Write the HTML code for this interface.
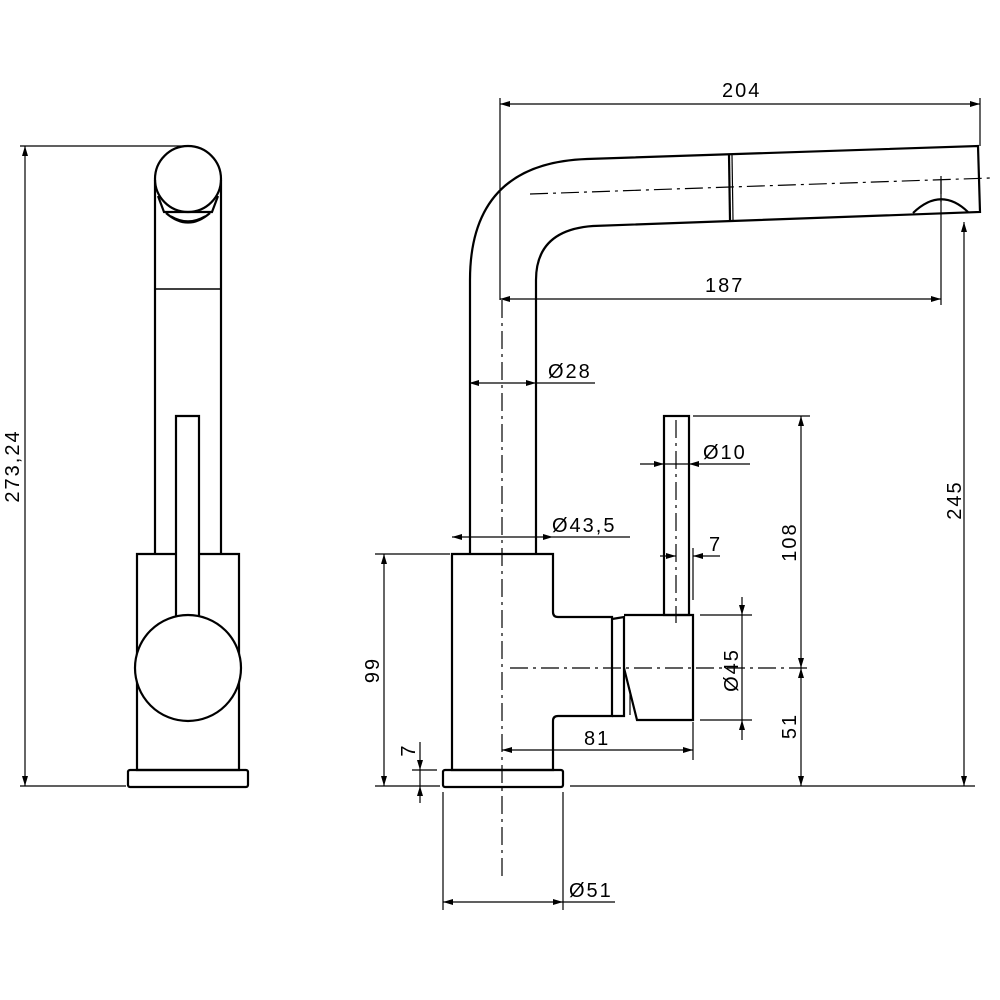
<!DOCTYPE html>
<html><head><meta charset="utf-8"><style>
html,body{margin:0;padding:0;background:#fff}
svg{display:block}
text{font-family:"Liberation Sans",sans-serif;font-size:20px;fill:#000;letter-spacing:2px}
</style></head><body>
<svg width="1000" height="1000" viewBox="0 0 1000 1000" xmlns="http://www.w3.org/2000/svg">
<defs>
<marker id="a" viewBox="0 0 10 6" refX="10" refY="3" markerWidth="18" markerHeight="6" markerUnits="userSpaceOnUse" orient="auto-start-reverse"><path d="M0,0 L10,3 L0,6 z" fill="#000"/></marker>
</defs>
<g fill="none" stroke="#000">
<!-- LEFT VIEW -->
<g stroke-width="1.2">
<line x1="20" y1="146" x2="190" y2="146"/>
<line x1="20" y1="786" x2="126" y2="786"/>
<line x1="25" y1="146" x2="25" y2="786" marker-start="url(#a)" marker-end="url(#a)"/>
</g>
<g stroke-width="2.2">
<circle cx="188" cy="179" r="33"/>
<line x1="155" y1="180" x2="155" y2="554"/>
<line x1="221" y1="180" x2="221" y2="554"/>
<line x1="155" y1="289" x2="221" y2="289" stroke-width="1.5"/>
<path d="M158,196 L164,212 L212,212 L218,196"/>
<path d="M166,213 Q188,232 210,213"/>
<path d="M171,216 Q188,226 205,216" stroke-width="1.4"/>
<path d="M176,616 L176,416 L199,416 L199,616"/>
<path d="M176,554 L137,554 L137,770 L239,770 L239,554 L199,554"/>
<circle cx="188" cy="668" r="53" fill="#fff"/>
<rect x="128" y="770" width="120" height="17" rx="2"/>
</g>
<!-- RIGHT VIEW dims -->
<g stroke-width="1.2">
<line x1="500" y1="98" x2="500" y2="300"/>
<line x1="980" y1="98" x2="980" y2="146"/>
<line x1="500" y1="104" x2="980" y2="104" marker-start="url(#a)" marker-end="url(#a)"/>
<line x1="941" y1="180" x2="941" y2="305"/>
<line x1="500" y1="299" x2="941" y2="299" marker-start="url(#a)" marker-end="url(#a)"/>
<line x1="964" y1="222" x2="964" y2="786" marker-start="url(#a)" marker-end="url(#a)"/>
<line x1="469" y1="383" x2="536" y2="383" marker-start="url(#a)" marker-end="url(#a)"/>
<line x1="536" y1="383" x2="595" y2="383"/>
<line x1="452" y1="537" x2="553" y2="537" marker-start="url(#a)" marker-end="url(#a)"/>
<line x1="553" y1="537" x2="630" y2="537"/>
<line x1="640" y1="464" x2="664" y2="464" marker-end="url(#a)"/>
<line x1="664" y1="464" x2="689" y2="464"/>
<line x1="750" y1="464" x2="689" y2="464" marker-end="url(#a)"/>
<line x1="660" y1="556" x2="676" y2="556" marker-end="url(#a)"/>
<line x1="720" y1="556" x2="693" y2="556" marker-end="url(#a)"/>
<line x1="693" y1="548" x2="693" y2="600"/>
<line x1="693" y1="416" x2="810" y2="416"/>
<line x1="801" y1="416" x2="801" y2="668" marker-start="url(#a)" marker-end="url(#a)"/>
<line x1="801" y1="668" x2="801" y2="786" marker-start="url(#a)" marker-end="url(#a)"/>
<line x1="700" y1="615" x2="752" y2="615"/>
<line x1="700" y1="720" x2="752" y2="720"/>
<line x1="742" y1="597" x2="742" y2="615" marker-end="url(#a)"/>
<line x1="742" y1="615" x2="742" y2="720"/>
<line x1="742" y1="740" x2="742" y2="720" marker-end="url(#a)"/>
<line x1="502" y1="750" x2="693" y2="750" marker-start="url(#a)" marker-end="url(#a)"/>
<line x1="693" y1="722" x2="693" y2="760"/>
<line x1="570" y1="786" x2="975" y2="786"/>
<line x1="375" y1="554" x2="450" y2="554"/>
<line x1="375" y1="786" x2="440" y2="786"/>
<line x1="384" y1="554" x2="384" y2="786" marker-start="url(#a)" marker-end="url(#a)"/>
<line x1="412" y1="770" x2="437" y2="770"/>
<line x1="420" y1="742" x2="420" y2="770" marker-end="url(#a)"/>
<line x1="420" y1="770" x2="420" y2="786"/>
<line x1="420" y1="803" x2="420" y2="786" marker-end="url(#a)"/>
<line x1="443" y1="792" x2="443" y2="910"/>
<line x1="563" y1="792" x2="563" y2="910"/>
<line x1="443" y1="902" x2="563" y2="902" marker-start="url(#a)" marker-end="url(#a)"/>
<line x1="563" y1="902" x2="615" y2="902"/>
</g>
<!-- centerlines -->
<g stroke-width="1.2" stroke-dasharray="18,5,3,5">
<line x1="502" y1="300" x2="502" y2="880"/>
<line x1="530" y1="194" x2="990" y2="178"/>
<line x1="510" y1="668" x2="810" y2="668"/>
<line x1="676" y1="420" x2="676" y2="623"/>
<line x1="941" y1="176" x2="941" y2="205"/>
</g>
<!-- right view body -->
<g stroke-width="2.2">
<path d="M470,554 L470,280 Q470,163 587,159 L978,146 L980,212 L593,226 Q536,230 536,280 L536,554"/>
<line x1="729" y1="155" x2="730" y2="220"/>
<line x1="732" y1="155" x2="733" y2="220" stroke-width="1.2"/>
<path d="M913,213 Q941,186 968,212"/>
<path d="M452,554 L553,554 L553,612 Q553,617 558,617 L612,617 L612,716 L558,716 Q553,716 553,721 L553,770 L452,770 Z"/>
<path d="M612,619 L624,617 L624,716 L612,716"/>
<path d="M624,668 L637,720 L693,720 L693,615 L624,615"/>
<line x1="630" y1="690" x2="630" y2="715" stroke-width="1.2"/>
<rect x="664" y="416" width="25" height="199"/>
<rect x="443" y="770" width="120" height="17" rx="2"/>
</g>
</g>
<!-- labels -->
<text x="722" y="104" dy="-7">204</text>
<text x="705" y="299" dy="-7">187</text>
<text x="548" y="378">Ø28</text>
<text x="552" y="532">Ø43,5</text>
<text x="703" y="459">Ø10</text>
<text x="709" y="551">7</text>
<text x="584" y="745">81</text>
<text x="569" y="897">Ø51</text>
<text transform="translate(19,466) rotate(-90)" text-anchor="middle">273,24</text>
<text transform="translate(379,670) rotate(-90)" text-anchor="middle">99</text>
<text transform="translate(415,750) rotate(-90)" text-anchor="middle">7</text>
<text transform="translate(796,542) rotate(-90)" text-anchor="middle">108</text>
<text transform="translate(796,726) rotate(-90)" text-anchor="middle">51</text>
<text transform="translate(738,670) rotate(-90)" text-anchor="middle">Ø45</text>
<text transform="translate(961,500) rotate(-90)" text-anchor="middle">245</text>
</svg>
</body></html>
